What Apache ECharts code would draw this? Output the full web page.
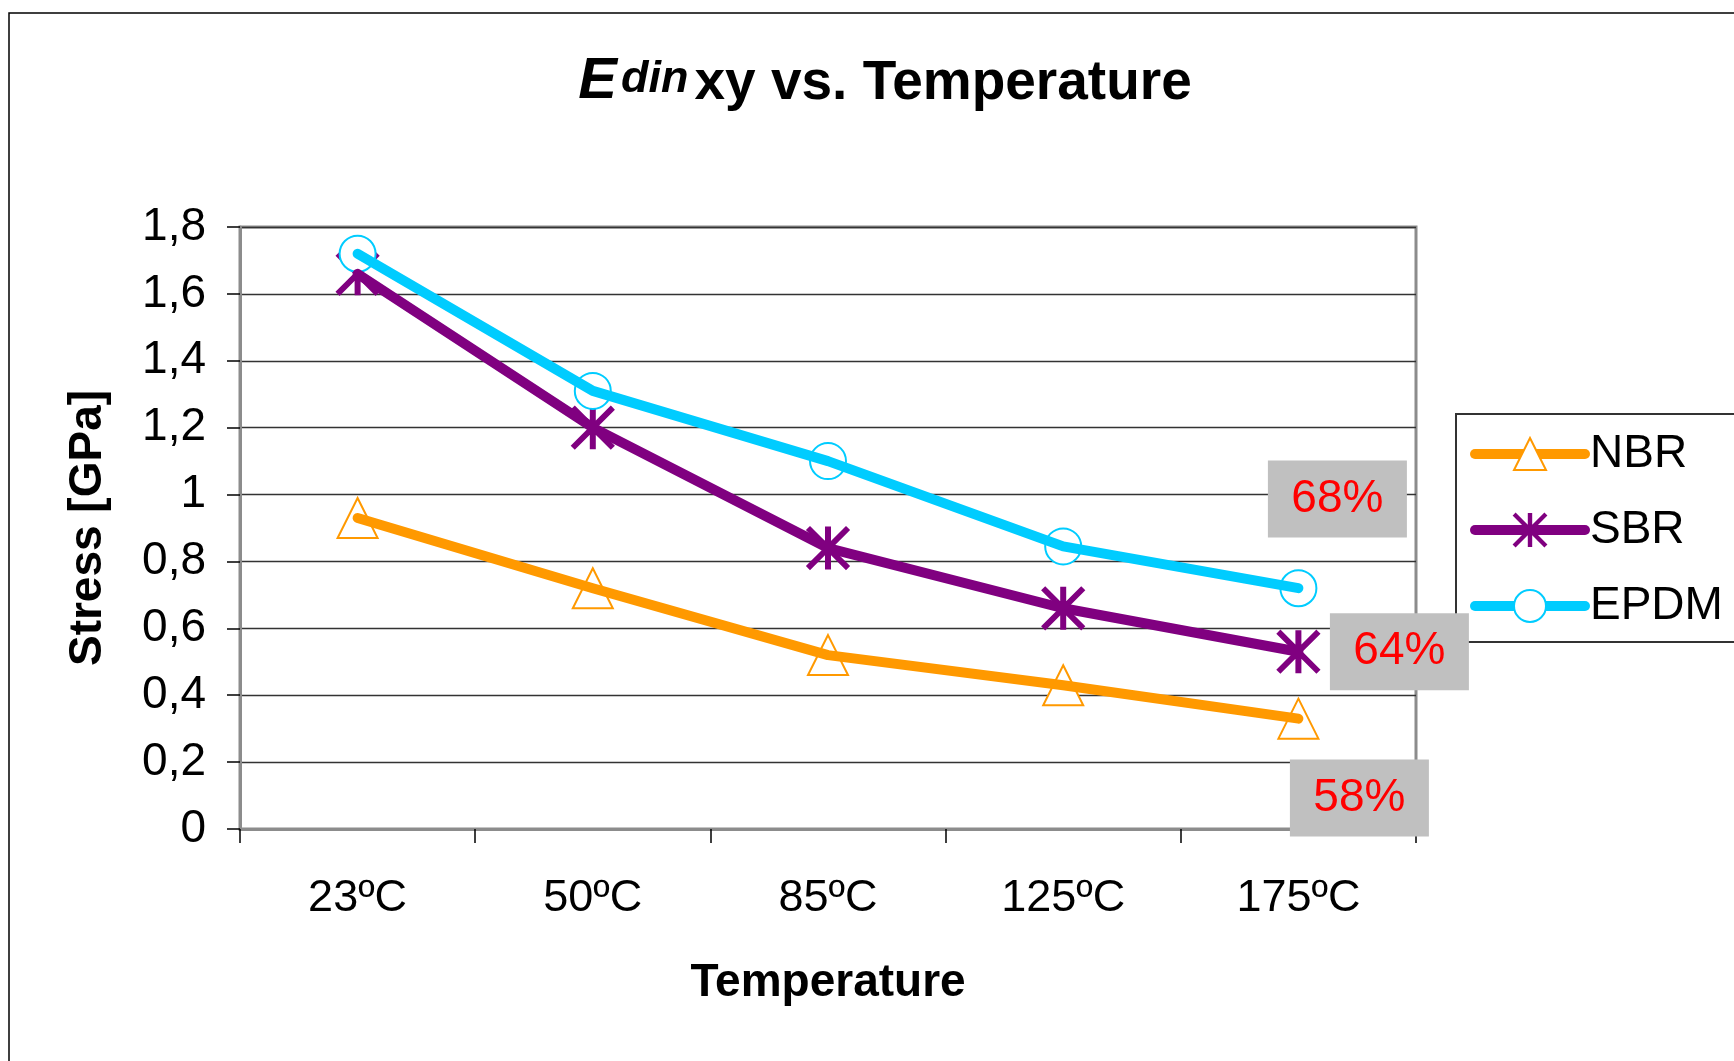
<!DOCTYPE html>
<html>
<head>
<meta charset="utf-8">
<title>Edinxy vs. Temperature</title>
<script src="https://cdn.jsdelivr.net/npm/echarts@6/dist/echarts.min.js"></script>
<style>
  html, body { margin: 0; padding: 0; background: #ffffff; }
  #chart { width: 1734px; height: 1061px; }
</style>
</head>
<body>
<div id="chart"></div>
<script>
// Test temperatures (category axis)
const temperatures = ['23ºC', '50ºC', '85ºC', '125ºC', '175ºC'];

// Dynamic modulus per rubber compound, GPa
const nbrValues  = [0.93, 0.72, 0.52, 0.43, 0.33];
const sbrValues  = [1.66, 1.20, 0.84, 0.66, 0.53];
const epdmValues = [1.72, 1.31, 1.10, 0.845, 0.72];

// Loss notes: text, anchor value on the stress axis, sideways shift in px
const epdmNote = { text: '68%', value: 0.987, shift: 39 };
const sbrNote  = { text: '64%', value: 0.53,  shift: 101 };
const nbrNote  = { text: '58%', value: 0.093, shift: 61 };

// Y axis range
const yMin = 0, yMax = 1.8, yStep = 0.2;

const FONT = '"Liberation Sans", Arial, sans-serif';

// Asterisk marker: vertical bar plus two diagonals
const asteriskPath = 'path://M18.5 0 L21.5 0 L21.5 40 L18.5 40 Z ' +
  'M0 2 L2 0 L40 38 L38 40 Z M38 0 L40 2 L2 40 L0 38 Z';

function noteMarker(note) {
  return {
    symbol: 'rect',
    symbolSize: [139, 77],
    z: 10,
    label: {
      show: true,
      position: 'inside',
      color: '#ff0000',
      fontSize: 46,
      fontFamily: FONT,
      formatter: note.text
    },
    itemStyle: { color: '#c0c0c0' },
    emphasis: { disabled: true },
    data: [{
      coord: [temperatures.length - 1, note.value],
      symbolOffset: [note.shift, 0]
    }]
  };
}

// Markers (drawn underneath) and the thick line (drawn on top) for one compound
function compoundSeries(name, values, color, symbol, size, note) {
  return [{
    name: name,
    type: 'line',
    z: 2,
    data: values,
    symbol: symbol,
    symbolSize: size,
    showAllSymbol: true,
    lineStyle: { color: color, width: 0, opacity: 0 },
    itemStyle: { color: color, borderColor: color, borderWidth: 3 },
    emphasis: { disabled: true },
    markPoint: noteMarker(note)
  }, {
    name: name,
    type: 'line',
    z: 3,
    data: values,
    symbol: 'none',
    lineStyle: { color: color, width: 10, cap: 'round', join: 'round' },
    itemStyle: { color: color },
    emphasis: { disabled: true }
  }];
}

const chart = echarts.init(document.getElementById('chart'), null, { renderer: 'canvas' });

chart.setOption({
  animation: false,
  backgroundColor: '#ffffff',
  textStyle: { fontFamily: FONT },
  title: {
    left: 880,
    textAlign: 'center',
    top: 48,
    text: '{e|E}{d|din}{x|xy vs. Temperature}',
    textStyle: {
      rich: {
        e: { fontSize: 58, fontWeight: 'bold', fontStyle: 'italic', color: '#000', fontFamily: FONT, verticalAlign: 'bottom' },
        d: { fontSize: 45, fontWeight: 'bold', fontStyle: 'italic', color: '#000', fontFamily: FONT, verticalAlign: 'bottom', padding: [0, 6, 9, 4] },
        x: { fontSize: 55, fontWeight: 'bold', color: '#000', fontFamily: FONT, verticalAlign: 'bottom' }
      }
    }
  },
  legend: {
    orient: 'vertical',
    left: 1456,
    top: 414,
    padding: [17, 60, 13, 14],
    itemWidth: 110,
    itemHeight: 40,
    itemGap: 30,
    borderColor: '#333',
    borderWidth: 2,
    backgroundColor: '#ffffff',
    lineStyle: { width: 10, cap: 'round', opacity: 1 },
    textStyle: { fontSize: 46, lineHeight: 46, color: '#000', fontFamily: FONT, padding: [0, 0, 0, 0] },
    data: ['NBR', 'SBR', 'EPDM']
  },
  grid: {
    left: 240,
    right: 318,
    top: 227,
    bottom: 232,
    show: true,
    borderColor: '#8c8c8c',
    borderWidth: 3,
    backgroundColor: 'transparent'
  },
  xAxis: {
    type: 'category',
    data: temperatures,
    boundaryGap: true,
    name: 'Temperature',
    nameLocation: 'middle',
    nameGap: 131,
    nameTextStyle: { fontSize: 46, fontWeight: 'bold', color: '#000', fontFamily: FONT },
    axisLine: { show: true, lineStyle: { color: '#8c8c8c', width: 3 } },
    axisTick: { show: true, alignWithLabel: false, length: 14, lineStyle: { color: '#000', width: 1.5 } },
    axisLabel: { fontSize: 45, color: '#000', margin: 47, fontFamily: FONT },
    splitLine: { show: false }
  },
  yAxis: {
    type: 'value',
    min: yMin,
    max: yMax,
    interval: yStep,
    name: 'Stress [GPa]',
    nameLocation: 'middle',
    nameGap: 129,
    nameRotate: 90,
    nameTextStyle: { fontSize: 46, fontWeight: 'bold', color: '#000', fontFamily: FONT },
    axisLine: { show: true, lineStyle: { color: '#8c8c8c', width: 3 } },
    axisTick: { show: true, length: 13, lineStyle: { color: '#000', width: 1.5 } },
    axisLabel: {
      fontSize: 46,
      color: '#000',
      margin: 34,
      fontFamily: FONT,
      formatter: function (v) { return String(Number(v.toFixed(1))).replace('.', ','); }
    },
    splitLine: { show: true, lineStyle: { color: '#333', width: 1.3 } }
  },
  graphic: [{
    type: 'rect',
    silent: true,
    z: -1,
    shape: { x: 9, y: 13, width: 2000, height: 2000 },
    style: { fill: 'none', stroke: '#000', lineWidth: 1.5 }
  }],
  series: [].concat(
    compoundSeries('NBR', nbrValues, '#ff9900', 'emptyTriangle', 40, nbrNote),
    compoundSeries('SBR', sbrValues, '#800080', asteriskPath, 40, sbrNote),
    compoundSeries('EPDM', epdmValues, '#00ccff', 'emptyCircle', 36, epdmNote)
  )
});
</script>
</body>
</html>
